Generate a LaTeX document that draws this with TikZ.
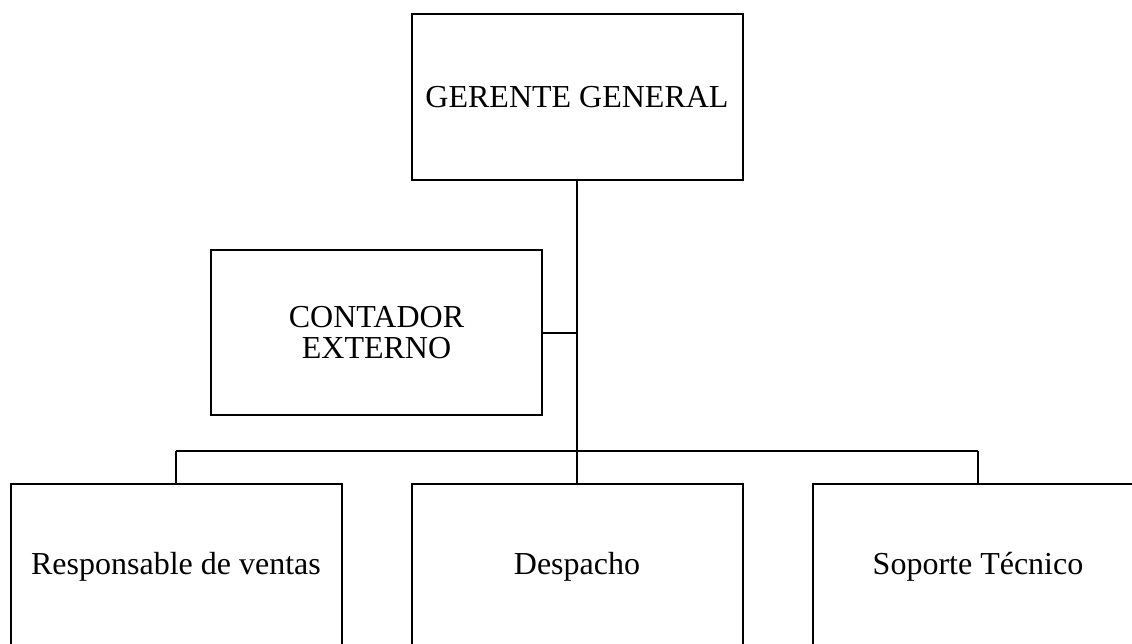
\documentclass[tikz,border=0pt]{standalone}
\usepackage{fontspec}
\setmainfont{Liberation Serif}
\begin{document}
\begin{tikzpicture}[x=1pt,y=-1pt,
  orgbox/.style={draw=black,line width=2pt,minimum width=331pt,minimum height=166pt,inner sep=0pt,align=center,font=\fontsize{32}{31}\selectfont},
  link/.style={draw=black,line width=2pt}]
\useasboundingbox (0,0) rectangle (1132,644);
\clip (0,0) rectangle (1132,644);
\node[orgbox] (ger) at (577,97) {GERENTE GENERAL};
\node[orgbox,minimum height=165pt] (con) at (376.5,332.5) {CONTADOR\\EXTERNO};
\node[orgbox] (ven) at (176,567) {Responsable de ventas};
\node[orgbox] (des) at (577,567) {Despacho};
\node[orgbox] (sop) at (978,567) {Soporte Técnico};
\coordinate (bus) at (577,451);
\coordinate (busL) at (176,451);
\coordinate (busR) at (978,451);
\draw[link] (ger.south) -- (bus);
\draw[link] (con.east) -- (con.east -| ger.south);
\draw[link] (busL) -- (busR);
\draw[link] (busL) -- (ven.north);
\draw[link] (bus) -- (des.north);
\draw[link] (busR) -- (sop.north);
\end{tikzpicture}
\end{document}
